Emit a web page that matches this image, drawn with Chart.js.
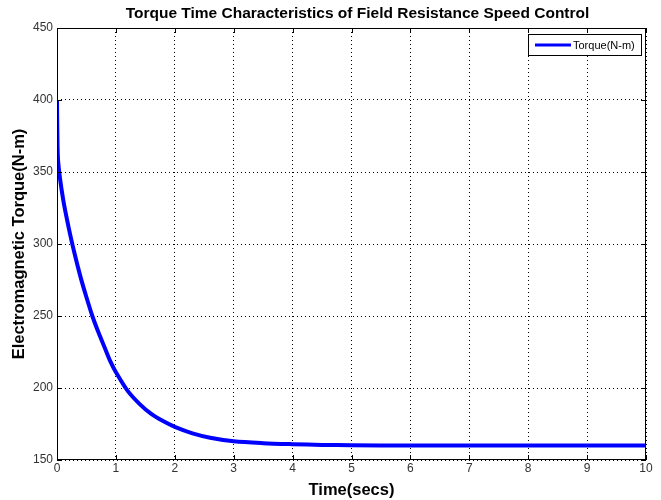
<!DOCTYPE html>
<html>
<head>
<meta charset="utf-8">
<script src="https://cdn.jsdelivr.net/npm/chart.js@4/dist/chart.umd.min.js"></script>
<style>
  html, body { margin: 0; padding: 0; background: #fff; }
  #wrap { width: 661px; height: 500px; position: relative; }
</style>
</head>
<body>
<div id="wrap"><canvas id="torqueChart"></canvas></div>
<script>
// Valeurs (temps en s, couple en N-m)
const timeSecs = [0, 0.005, 0.02, 0.1, 0.2, 0.3, 0.4, 0.5, 0.6, 0.7, 0.8, 0.9, 1.0,
    1.2, 1.4, 1.6, 1.8, 2.0, 2.3, 2.6, 3.0, 3.5, 4.0, 4.5, 5, 6, 7, 8, 9, 10];
const torqueNm = [400, 380, 357, 332, 311, 293, 277, 263, 250, 239, 229, 219, 211,
    198, 189, 182, 177, 173, 168.5, 165.5, 163, 161.7, 161, 160.5, 160.3, 160, 160, 160, 160, 160];
const xTicks = [0, 1, 2, 3, 4, 5, 6, 7, 8, 9, 10];
const yTicks = [150, 200, 250, 300, 350, 400, 450];

const chartTitle = 'Torque Time Characteristics of Field Resistance Speed Control';
const seriesLabel = 'Torque(N-m)';
const lineColor = '#0000ff';
const fontFamily = '"Liberation Sans", Arial, sans-serif';

// Titre centré sur la zone de tracé, cadre + graduations internes façon MATLAB, légende encadrée
const framePlugin = {
    id: 'frame',
    afterDraw(chart) {
        const { ctx, chartArea: a, scales: { x, y } } = chart;
        ctx.save();

        ctx.fillStyle = '#000';
        ctx.font = 'bold 15.5px ' + fontFamily;
        ctx.textAlign = 'center';
        ctx.textBaseline = 'middle';
        ctx.fillText(chartTitle, (a.left + a.right) / 2 + 6, 14);

        ctx.strokeStyle = '#000';
        ctx.lineWidth = 1;
        ctx.strokeRect(a.left + 0.5, a.top + 0.5, a.right - a.left - 1, a.bottom - a.top - 1);
        ctx.beginPath();
        xTicks.forEach(v => {
            const px = Math.round(x.getPixelForValue(v)) + 0.5;
            ctx.moveTo(px, a.bottom); ctx.lineTo(px, a.bottom - 5);
            ctx.moveTo(px, a.top); ctx.lineTo(px, a.top + 5);
        });
        yTicks.forEach(v => {
            const py = Math.round(y.getPixelForValue(v)) + 0.5;
            ctx.moveTo(a.left, py); ctx.lineTo(a.left + 5, py);
            ctx.moveTo(a.right, py); ctx.lineTo(a.right - 5, py);
        });
        ctx.stroke();

        // Légende
        const bx = a.right - 118, by = a.top + 6, bw = 113, bh = 21;
        ctx.fillStyle = '#fff';
        ctx.fillRect(bx, by, bw, bh);
        ctx.strokeRect(bx + 0.5, by + 0.5, bw, bh);
        ctx.strokeStyle = lineColor;
        ctx.lineWidth = 3;
        ctx.beginPath();
        ctx.moveTo(bx + 7, by + bh / 2 + 0.5);
        ctx.lineTo(bx + 43, by + bh / 2 + 0.5);
        ctx.stroke();
        ctx.fillStyle = '#000';
        ctx.font = '11px ' + fontFamily;
        ctx.textAlign = 'left';
        ctx.textBaseline = 'middle';
        ctx.fillText(seriesLabel, bx + 45, by + bh / 2 + 1);
        ctx.restore();
    }
};

const ctx = document.getElementById('torqueChart').getContext('2d');
const chart = new Chart(ctx, {
    type: 'line',
    data: {
        datasets: [{
            label: seriesLabel,
            data: timeSecs.map((t, i) => ({ x: t, y: torqueNm[i] })),
            borderColor: lineColor,
            backgroundColor: lineColor,
            borderWidth: 4,
            pointRadius: 0,
            tension: 0.3,
            fill: false
        }]
    },
    options: {
        responsive: true,
        maintainAspectRatio: false,
        animation: false,
        layout: { padding: { top: 28, right: 15, left: 0, bottom: 0 } },
        plugins: {
            legend: { display: false },
            tooltip: { enabled: false },
            title: { display: false }
        },
        scales: {
            x: {
                type: 'linear',
                min: 0,
                max: 10,
                afterFit: (scale) => { scale.height = 40; },
                ticks: {
                    stepSize: 1,
                    color: '#333',
                    padding: 1,
                    font: { family: fontFamily, size: 12 }
                },
                grid: { color: '#000', lineWidth: 1, drawTicks: false },
                border: { display: false, dash: [1, 3] },
                title: {
                    display: true,
                    text: 'Time(secs)',
                    color: '#000',
                    padding: { top: 0, bottom: 0 },
                    font: { family: fontFamily, size: 16.5, weight: 'bold' }
                }
            },
            y: {
                min: 150,
                max: 450,
                afterFit: (scale) => { scale.width = 57; },
                ticks: {
                    stepSize: 50,
                    color: '#333',
                    padding: 4,
                    font: { family: fontFamily, size: 12 }
                },
                grid: { color: '#000', lineWidth: 1, drawTicks: false },
                border: { display: false, dash: [1, 3] },
                title: {
                    display: true,
                    text: 'Electromagnetic Torque(N-m)',
                    color: '#000',
                    padding: { top: 10, bottom: 4 },
                    font: { family: fontFamily, size: 16.5, weight: 'bold' }
                }
            }
        }
    },
    plugins: [framePlugin]
});
</script>
</body>
</html>
